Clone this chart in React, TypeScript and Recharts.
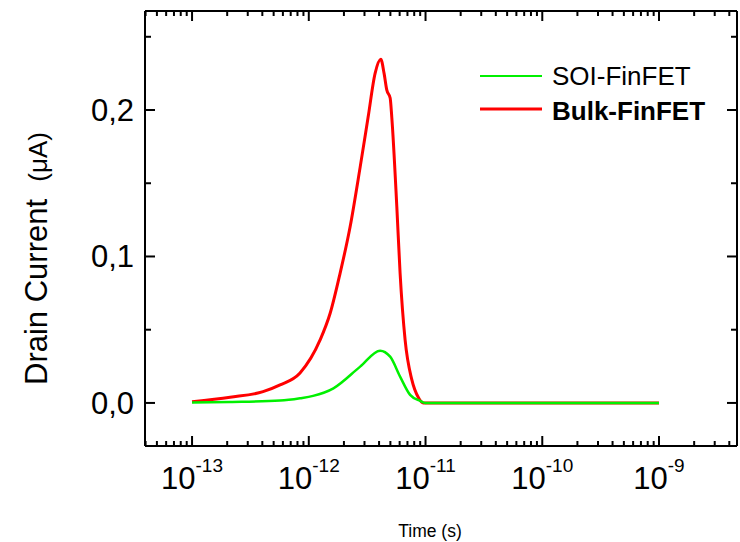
import React from 'react';
import { LineChart, Line, XAxis, YAxis, Legend } from 'recharts';

// log10(time in s) and drain current (µA)
const bulkTime = [-13, -12.674, -12.392, -12.246, -12.075, -11.903, -11.817, -11.732, -11.646, -11.56, -11.492, -11.432, -11.383, -11.355, -11.332, -11.303, -11.289, -11.246, -11.218, -11.175, -11.117, -11.06, -11.02, -10.5, -10, -9.5, -9];
const bulkCurrent = [0.0008, 0.0039, 0.0077, 0.0123, 0.0205, 0.043, 0.0612, 0.0885, 0.1203, 0.161, 0.195, 0.225, 0.2346, 0.225, 0.2137, 0.2082, 0.195, 0.134, 0.0887, 0.043, 0.0157, 0.0035, 0, 0, 0, 0, 0];

const soiTime = [-13, -12.674, -12.246, -12.075, -11.963, -11.789, -11.56, -11.389, -11.303, -11.218, -11.132, -11.046, -11.003, -10.5, -10, -9.5, -9];
const soiCurrent = [0.0003, 0.0007, 0.0016, 0.0032, 0.0048, 0.010, 0.0248, 0.0357, 0.0316, 0.018, 0.0055, 0.0014, 0, 0, 0, 0, 0];

const xMajorExponents = [-13, -12, -11, -10, -9];
const xMinorMultipliers = [2, 3, 4, 5, 6, 7, 8, 9];
const yMajorTicks = [0, 0.1, 0.2];
const yMinorTicks = [0.05, 0.15, 0.25];

const seriesNames = ['SOI-FinFET', 'Bulk-FinFET'];
const seriesColors = ['#00f000', '#ff0000'];

const bulkData = bulkTime.map((t, i) => ({ t, v: bulkCurrent[i] }));
const soiData = soiTime.map((t, i) => ({ t, v: soiCurrent[i] }));

const X_DOMAIN: [number, number] = [-13.403, -8.332];
const Y_DOMAIN: [number, number] = [-0.0294, 0.2676];

const xTicks: number[] = [];
[-14, ...xMajorExponents].forEach((e) => {
  if (e >= X_DOMAIN[0]) xTicks.push(e);
  xMinorMultipliers.forEach((m) => {
    const v = e + Math.log10(m);
    if (v > X_DOMAIN[0] && v < X_DOMAIN[1]) xTicks.push(v);
  });
});
const yTicks = [...yMajorTicks, ...yMinorTicks].sort((a, b) => a - b);

const FONT = '"Liberation Sans", Arial, sans-serif';

const isMajorX = (v: number) => Math.abs(v - Math.round(v)) < 1e-6;
const isMajorY = (v: number) => Math.abs(v * 10 - Math.round(v * 10)) < 1e-6;

const BottomTick = (props: any) => {
  const { x, y, payload } = props;
  const v = payload.value;
  const major = isMajorX(v);
  const len = major ? 10 : 5;
  return (
    <g>
      <line x1={x} y1={y} x2={x} y2={y - len} stroke="#000" strokeWidth={2} />
      {major && xMajorExponents.includes(Math.round(v)) && (
        <text x={x} y={y + 43} textAnchor="middle" fontFamily={FONT} fill="#000">
          <tspan fontSize={31}>10</tspan>
          <tspan fontSize={19} dy={-17}>{String(Math.round(v))}</tspan>
        </text>
      )}
    </g>
  );
};

const TopTick = (props: any) => {
  const { x, y, payload } = props;
  const len = isMajorX(payload.value) ? 10 : 5;
  return <line x1={x} y1={y} x2={x} y2={y + len} stroke="#000" strokeWidth={2} />;
};

const LeftTick = (props: any) => {
  const { x, y, payload } = props;
  const v = payload.value;
  const major = isMajorY(v);
  const len = major ? 10 : 6;
  return (
    <g>
      <line x1={x} y1={y} x2={x + len} y2={y} stroke="#000" strokeWidth={2} />
      {major && (
        <text x={x - 11} y={y + 11} textAnchor="end" fontSize={31} fontFamily={FONT} fill="#000">
          {v.toFixed(1).replace('.', ',')}
        </text>
      )}
    </g>
  );
};

const RightTick = (props: any) => {
  const { x, y, payload } = props;
  const len = isMajorY(payload.value) ? 10 : 6;
  return <line x1={x} y1={y} x2={x - len} y2={y} stroke="#000" strokeWidth={2} />;
};

const renderLegend = () => (
  <svg width={260} height={70} style={{ display: 'block' }}>
    {seriesNames.map((name, i) => (
      <g key={name}>
        <line x1={0} x2={62} y1={21 + i * 33} y2={21 + i * 33} stroke={seriesColors[i]} strokeWidth={i === 0 ? 2 : 3} />
        <text x={72} y={30 + i * 35} fontSize={26} fontFamily={FONT} fontWeight={i === 1 ? 'bold' : 'normal'} fill="#000">
          {name}
        </text>
      </g>
    ))}
  </svg>
);

export default function App() {
  return (
    <div style={{ position: 'absolute', left: 0, top: 0, width: 740, height: 542, background: '#fff' }}>
      <LineChart width={740} height={542} margin={{ top: 0, right: 0, bottom: 0, left: 0 }}>
        <XAxis
          xAxisId="b"
          dataKey="t"
          type="number"
          orientation="bottom"
          domain={X_DOMAIN}
          allowDataOverflow
          ticks={xTicks}
          interval={0}
          tick={<BottomTick />}
          tickLine={false}
          tickSize={0}
          tickMargin={0}
          height={96}
          axisLine={{ stroke: '#000', strokeWidth: 2 }}
          label={{
            value: 'Time (s)',
            content: () => (
              <text x={430} y={537} textAnchor="middle" fontSize={17.5} fontFamily={FONT} fill="#000">
                Time (s)
              </text>
            ),
          }}
        />
        <XAxis
          xAxisId="t"
          dataKey="t"
          type="number"
          orientation="top"
          domain={X_DOMAIN}
          allowDataOverflow
          ticks={xTicks}
          interval={0}
          tick={<TopTick />}
          tickLine={false}
          tickSize={0}
          tickMargin={0}
          height={11}
          axisLine={{ stroke: '#000', strokeWidth: 2 }}
        />
        <YAxis
          yAxisId="l"
          type="number"
          orientation="left"
          domain={Y_DOMAIN}
          allowDataOverflow
          ticks={yTicks}
          interval={0}
          tick={<LeftTick />}
          tickLine={false}
          tickSize={0}
          tickMargin={0}
          width={145}
          axisLine={{ stroke: '#000', strokeWidth: 2 }}
          label={{
            value: 'Drain Current',
            content: () => (
              <text transform="translate(47,385) rotate(-90)" textAnchor="start" fontFamily={FONT} fill="#000">
                <tspan fontSize={31}>Drain Current</tspan>
                <tspan fontSize={31}>{'\u00a0\u00a0'}</tspan>
                <tspan fontSize={26}>(μA)</tspan>
              </text>
            ),
          }}
        />
        <YAxis
          yAxisId="r"
          type="number"
          orientation="right"
          domain={Y_DOMAIN}
          allowDataOverflow
          ticks={yTicks}
          interval={0}
          tick={<RightTick />}
          tickLine={false}
          tickSize={0}
          tickMargin={0}
          width={3}
          axisLine={{ stroke: '#000', strokeWidth: 2 }}
        />
        <Legend
          layout="horizontal"
          verticalAlign="middle"
          align="center"
          content={renderLegend}
          wrapperStyle={{ position: 'absolute', left: 480, top: 55, width: 260, height: 70 }}
        />
        <Line
          xAxisId="b"
          yAxisId="l"
          data={bulkData}
          dataKey="v"
          type="monotone"
          stroke={seriesColors[1]}
          strokeWidth={3}
          dot={false}
          isAnimationActive={false}
          name={seriesNames[1]}
        />
        <Line
          xAxisId="b"
          yAxisId="l"
          data={soiData}
          dataKey="v"
          type="monotone"
          stroke={seriesColors[0]}
          strokeWidth={2.5}
          dot={false}
          isAnimationActive={false}
          name={seriesNames[0]}
        />
      </LineChart>
    </div>
  );
}
